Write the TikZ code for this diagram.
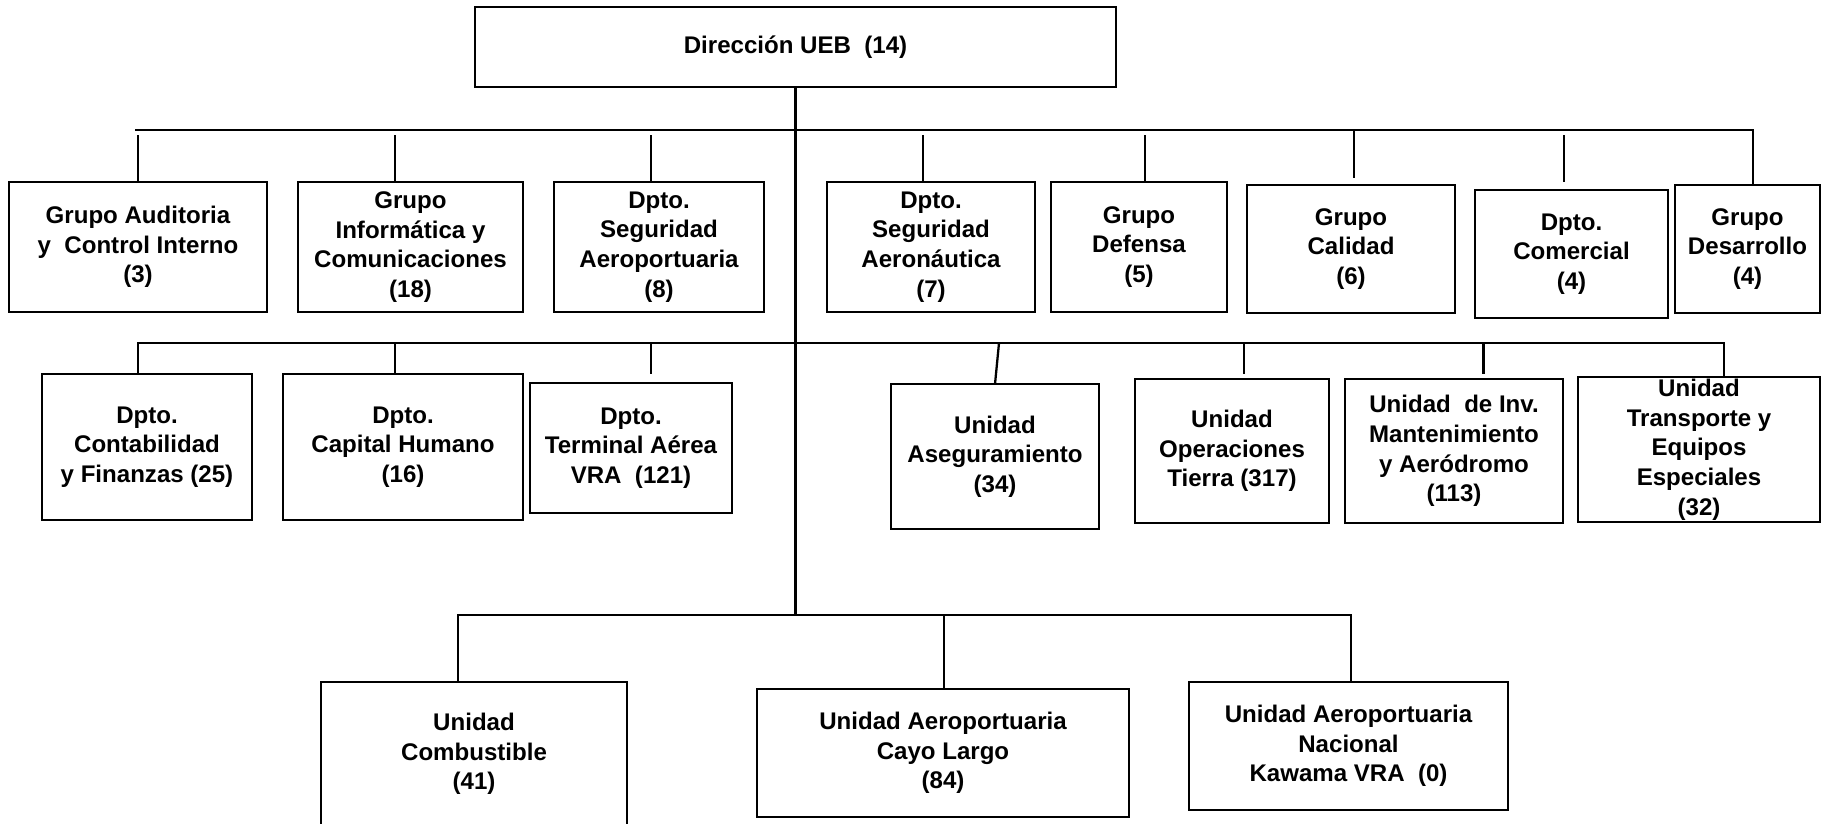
\documentclass[tikz,border=0pt]{standalone}
\usepackage{fontspec}
\setmainfont{Liberation Sans}
\tikzset{
  box/.style={draw, line width=1.4pt, fill=white, inner sep=0pt, align=center,
    font=\bfseries\fontsize{13.7}{16.9}\selectfont},
  conn/.style={line width=1.3pt}
}
\newcommand{\orgbox}[6]{%
  \node[box, minimum width={(#4-#2)*0.02cm}, minimum height={(#5-#3)*0.02cm}]
    (#1) at ({(#2+#4)/2},{(#3+#5)/2}) {#6};}
\begin{document}
\begin{tikzpicture}[x=0.02cm, y=-0.02cm]
\clip (0,0) rectangle (1828,823);
\fill[white] (0,0) rectangle (1828,823);

% boxes
\orgbox{dir}{475}{7}{1116}{87}{Dirección UEB~~(14)}
\orgbox{a1}{9}{182}{267}{312}{Grupo Auditoria\\y~ Control Interno\\(3)}
\orgbox{a2}{298}{182}{523}{312}{Grupo\\Informática y\\Comunicaciones\\(18)}
\orgbox{a3}{554}{182}{764}{312}{Dpto.\\Seguridad\\Aeroportuaria\\(8)}
\orgbox{a4}{827}{182}{1035}{312}{Dpto.\\Seguridad\\Aeronáutica\\(7)}
\orgbox{a5}{1051}{182}{1227}{312}{Grupo\\Defensa\\(5)}
\orgbox{a6}{1247}{185}{1455}{313}{Grupo\\Calidad\\(6)}
\orgbox{a7}{1475}{190}{1668}{318}{Dpto.\\Comercial\\(4)}
\orgbox{a8}{1675}{185}{1820}{313}{Grupo\\Desarrollo\\(4)}

\orgbox{b1}{42}{374}{252}{520}{Dpto.\\Contabilidad\\y Finanzas (25)}
\orgbox{b2}{283}{374}{523}{520}{Dpto.\\Capital Humano\\(16)}
\orgbox{b3}{530}{383}{732}{513}{Dpto.\\Terminal Aérea\\VRA~ (121)}
\orgbox{b4}{891}{384}{1099}{529}{Unidad\\Aseguramiento\\(34)}
\orgbox{b5}{1135}{379}{1329}{523}{Unidad\\Operaciones\\Tierra (317)}
\orgbox{b6}{1345}{379}{1563}{523}{Unidad~ de Inv.\\Mantenimiento\\y Aeródromo\\(113)}
\orgbox{b7}{1578}{377}{1820}{522}{Unidad\\Transporte y\\Equipos\\Especiales\\(32)}

\orgbox{c1}{321}{682}{627}{826}{Unidad\\Combustible\\(41)}
\orgbox{c2}{757}{689}{1129}{817}{Unidad Aeroportuaria\\Cayo Largo\\(84)}
\orgbox{c3}{1189}{682}{1508}{810}{Unidad Aeroportuaria\\Nacional\\Kawama VRA~ (0)}

% trunk
\coordinate (trunk) at (795.5,615);
\draw[conn] (dir.south) -- (trunk);

% row 1
\coordinate (L1a) at (135,130);
\coordinate (L1b) at (1753,130);
\draw[conn] (L1a) -- (L1b) -- (L1b |- a8.north);
\coordinate (d1) at (138,135);  \draw[conn] (d1) -- (d1 |- a1.north);
\coordinate (d2) at (395,135);  \draw[conn] (d2) -- (d2 |- a2.north);
\coordinate (d3) at (651,135);  \draw[conn] (d3) -- (d3 |- a3.north);
\coordinate (d4) at (923,135);  \draw[conn] (d4) -- (d4 |- a4.north);
\coordinate (d5) at (1145,135); \draw[conn] (d5) -- (d5 |- a5.north);
\coordinate (d6) at (1354,130); \coordinate (e6) at (1354,178); \draw[conn] (d6) -- (e6);
\coordinate (d7) at (1564,135); \coordinate (e7) at (1564,182); \draw[conn] (d7) -- (e7);

% row 2
\coordinate (L2a) at (138,343);
\coordinate (L2b) at (1724,343);
\draw[conn] (L2a |- b1.north) -- (L2a) -- (L2b) -- (L2b |- b7.north);
\coordinate (f2) at (395,343);  \draw[conn] (f2) -- (f2 |- b2.north);
\coordinate (f3) at (651,343);  \coordinate (g3) at (651,374); \draw[conn] (f3) -- (g3);
\coordinate (f4) at (999,343);  \coordinate (g4) at (995,384); \draw[conn] (f4) -- (g4);
\coordinate (f5) at (1244,343); \coordinate (g5) at (1244,374); \draw[conn] (f5) -- (g5);
\coordinate (f6) at (1483.5,343); \coordinate (g6) at (1483.5,374); \draw[conn] (f6) -- (g6);

% row 3
\coordinate (L3a) at (458,615);
\coordinate (L3b) at (1351,615);
\draw[conn] (L3a |- c1.north) -- (L3a) -- (L3b) -- (L3b |- c3.north);
\coordinate (h2) at (944,615); \draw[conn] (h2) -- (h2 |- c2.north);
\end{tikzpicture}
\end{document}
